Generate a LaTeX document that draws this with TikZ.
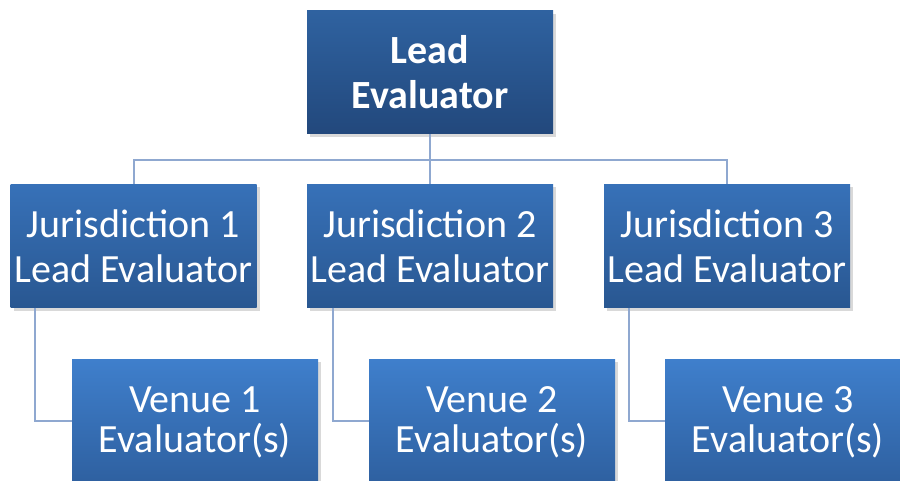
\documentclass[tikz,border=0pt]{standalone}
\usepackage{fontspec}
\setmainfont{Carlito}
\usetikzlibrary{shadows}

\definecolor{leadtop}{RGB}{47,98,160}
\definecolor{leadbot}{RGB}{34,72,124}
\definecolor{jurtop}{RGB}{55,113,184}
\definecolor{jurbot}{RGB}{41,87,145}
\definecolor{ventop}{RGB}{63,127,204}
\definecolor{venbot}{RGB}{44,92,154}
\definecolor{linkcol}{RGB}{143,168,208}

\tikzset{
    box/.style = {minimum width = 246pt, minimum height = 123pt, inner sep = 0pt,
        align = center, text = white, shading = axis,
        font = \fontsize{40}{45}\selectfont,
        drop shadow = {shadow xshift = 3pt, shadow yshift = -3pt, opacity = .3}},
    leadbox/.style = {box, top color = leadtop, bottom color = leadbot,
        font = \fontsize{40}{45}\selectfont\bfseries},
    jurbox/.style = {box, top color = jurtop, bottom color = jurbot},
    venbox/.style = {box, top color = ventop, bottom color = venbot,
        font = \fontsize{40}{40}\selectfont,
        minimum height = 141pt, text depth = 20pt}, % runs off the bottom edge
    link/.style = {linkcol, line width = 2pt}
}

\begin{document}
\begin{tikzpicture}[x = 1pt, y = -1pt]
    \useasboundingbox (0,0) rectangle (900,481);
    \clip (0,0) rectangle (900,481);

    \node[leadbox] (lead) at (430, 72.5) {Lead\\Evaluator};

    \node[jurbox] (J1) at (133.5, 246) {Jurisdiction 1\\Lead Evaluator};
    \node[jurbox] (J2) at (430, 246) {Jurisdiction 2\\Lead Evaluator};
    \node[jurbox] (J3) at (727, 246) {Jurisdiction 3\\Lead Evaluator};

    \node[venbox] (V1) at (195, 429.5) {Venue 1\\Evaluator(s)};
    \node[venbox] (V2) at (492, 429.5) {Venue 2\\Evaluator(s)};
    \node[venbox] (V3) at (788, 429.5) {Venue 3\\Evaluator(s)};

    \draw[link] (lead.south) -- ++ (0, 26) -| (J1.north);
    \draw[link] (lead.south) -- (J2.north);
    \draw[link] (lead.south) -- ++ (0, 26) -| (J3.north);

    \draw[link] ([xshift = -98.5pt]J1.south) |- ([yshift = 9pt]V1.west);
    \draw[link] ([xshift = -97pt]J2.south) |- ([yshift = 9pt]V2.west);
    \draw[link] ([xshift = -98pt]J3.south) |- ([yshift = 9pt]V3.west);
\end{tikzpicture}
\end{document}
